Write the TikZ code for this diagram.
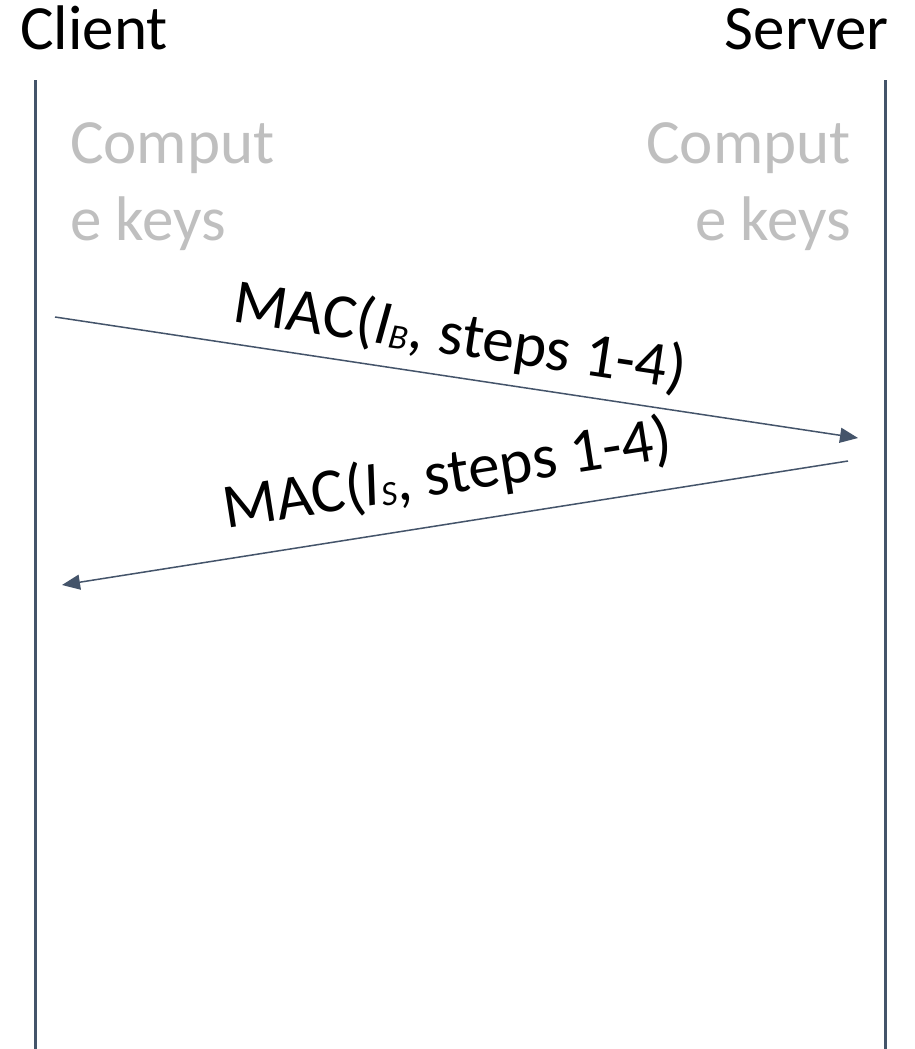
\documentclass[tikz,border=0pt]{standalone}
\usepackage{fontspec}
\setmainfont{Carlito}
\usetikzlibrary{arrows.meta}
\definecolor{lifeline}{HTML}{44546A}
\definecolor{notegray}{HTML}{BFBFBF}
% small italic index set just below the baseline
\newcommand{\keyidx}[1]{\raisebox{-0.04em}{\fontsize{35}{35}\selectfont\itshape #1}}
\begin{document}
\begin{tikzpicture}[x=1pt,y=-1pt,
  bigtext/.style={font=\fontsize{63}{77}\selectfont, inner sep=0pt},
  party/.style={bigtext, text=black, anchor=base west},
  note/.style={bigtext, text=notegray},
  lifelinestyle/.style={draw=lifeline, line width=3pt},
  msg/.style={draw=lifeline, line width=1.5pt, -{Triangle[length=18pt,width=15pt]}},
  msglabel/.style={bigtext, text=black, sloped, anchor=base}]
  \useasboundingbox[fill=white] (0,0) rectangle (914,1049);

  % participants
  \node[party] (client) at (20,50) {Client};
  \node[bigtext, anchor=base east] (server) at (889,50) {Server};

  % lifelines
  \coordinate (ctop) at (35,80);
  \coordinate (cbot) at (35,1049);
  \coordinate (stop) at (885,80);
  \coordinate (sbot) at (885,1049);
  \draw[lifelinestyle] (ctop) -- (cbot);
  \draw[lifelinestyle] (stop) -- (sbot);

  % local computation notes
  \node[note, anchor=north west, align=left] (cnote) at (70,122) {Comput\\e keys};
  \node[note, anchor=north east, align=right] (snote) at (851,122) {Comput\\e keys};

  % message end points
  \coordinate (m1s) at (55,317);
  \coordinate (m1e) at (858,438);
  \coordinate (m2s) at (848,461);
  \coordinate (m2e) at (62,585);

  % messages
  \draw[msg] (m1s) -- (m1e)
    node[msglabel, pos=0.497, yshift=22pt] (l1) {MAC({\itshape I}\keyidx{B}, steps 1-4)};
  \draw[msg] (m2s) -- (m2e)
    node[msglabel, pos=0.5, yshift=30pt] (l2) {MAC({\itshape I}\keyidx{S}, steps 1-4)};
\end{tikzpicture}
\end{document}
